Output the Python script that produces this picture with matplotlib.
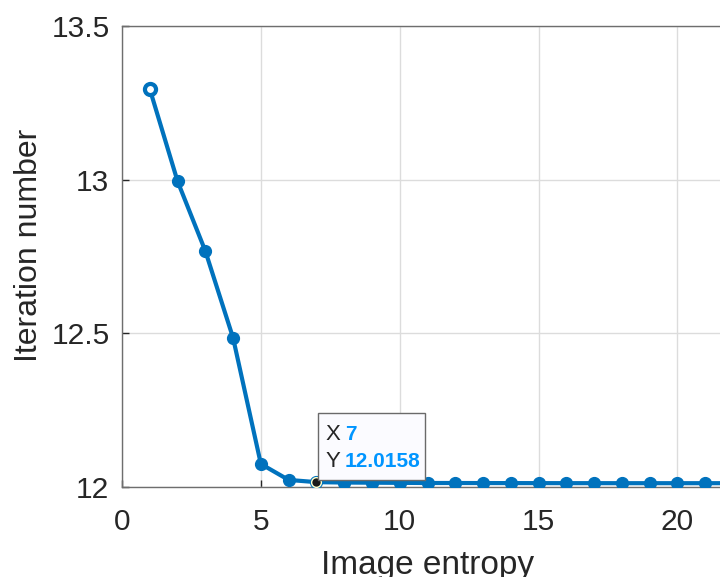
import numpy as np
import matplotlib.pyplot as plt

plt.rcParams['font.family'] = ['Liberation Sans', 'DejaVu Sans']

entropy = list(range(1, 23))
iterations = [13.295, 12.995, 12.768, 12.485, 12.075, 12.023, 12.0158, 12.0145,
              12.014, 12.0135, 12.013, 12.013, 12.0128, 12.0127, 12.0126, 12.0125,
              12.0125, 12.0124, 12.0124, 12.0124, 12.0124, 12.0124]
tip_x = 7
tip_y = 12.0158

blue = '#0072BD'
fig = plt.figure(figsize=(7.2, 5.77), dpi=100)
ax = fig.add_axes([122 / 720, 90 / 577, 611 / 720, 461 / 577])

ax.plot(entropy, iterations, color=blue, lw=3, marker='o', ms=8.5, zorder=3)
# first point drawn as open marker
ax.plot(entropy[0], iterations[0], 'o', color=blue, mfc='white', mew=3, ms=8, zorder=4)

# data tip
ax.plot(tip_x, tip_y, 'o', color='#1a1a1a', mec='#ffffcc', mew=1, ms=7, zorder=5, clip_on=False)
box = plt.Rectangle((7.05, 12.023), 3.85, 0.218, transform=ax.transData, fc='#fbfbff',
                    ec='#6a6a6a', lw=1, zorder=5, clip_on=False)
ax.add_patch(box)
ax.text(7.33, 12.172, 'X', fontsize=16, color='#262626', va='center', ha='left', zorder=6)
ax.text(8.03, 12.172, '7', fontsize=15, color='#0095FF', fontweight='bold', va='center', ha='left', zorder=6)
ax.text(7.33, 12.084, 'Y', fontsize=16, color='#262626', va='center', ha='left', zorder=6)
ax.text(8.03, 12.084, '12.0158', fontsize=15, color='#0095FF', fontweight='bold', va='center', ha='left', zorder=6)

ax.set_xlim(0, 22)
ax.set_ylim(12, 13.5)
ax.set_xticks([0, 5, 10, 15, 20])
ax.set_yticks([12, 12.5, 13, 13.5])
ax.set_yticklabels(['12', '12.5', '13', '13.5'])
ax.grid(True, color='#dcdcdc', lw=1)
ax.set_axisbelow(True)
ax.tick_params(direction='in', labelsize=21.5, colors='#262626', length=5, width=1)
ax.tick_params(axis='x', pad=15)
ax.tick_params(axis='y', pad=9)
for s in ax.spines.values():
    s.set_color('#6e6e6e')
    s.set_linewidth(1)
ax.set_xlabel('Image entropy', fontsize=24, color='#262626', labelpad=10)
ax.set_ylabel('Iteration number', fontsize=23, color='#262626')
ax.yaxis.set_label_coords(-0.128, 0.525)

plt.savefig('out.png', dpi=100)
